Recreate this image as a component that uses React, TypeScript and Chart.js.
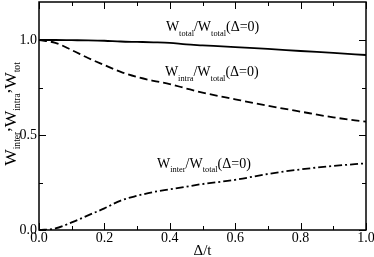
import React, { useEffect, useRef } from "react";
import { Chart, registerables } from "chart.js";

Chart.register(...registerables);

const DELTA = [0, 0.05, 0.1, 0.15, 0.2, 0.25, 0.3, 0.35, 0.4, 0.45, 0.5, 0.6, 0.7, 0.8, 0.9, 1.0];
const W_TOTAL = [1.0, 1.0, 0.999, 0.998, 0.996, 0.992, 0.99, 0.988, 0.985, 0.977, 0.972, 0.962, 0.953, 0.942, 0.932, 0.921];
const W_INTRA = [1.0, 0.985, 0.947, 0.905, 0.868, 0.832, 0.805, 0.785, 0.768, 0.745, 0.723, 0.688, 0.654, 0.623, 0.593, 0.57];
const W_INTER = [0, 0.008, 0.04, 0.077, 0.114, 0.155, 0.18, 0.2, 0.214, 0.228, 0.242, 0.264, 0.295, 0.319, 0.337, 0.351];

const X_TICKS = [0, 0.1, 0.2, 0.3, 0.4, 0.5, 0.6, 0.7, 0.8, 0.9, 1.0];
const X_LABELS = ["0.0", "", "0.2", "", "0.4", "", "0.6", "", "0.8", "", "1.0"];
const Y_TICKS = [0, 0.25, 0.5, 0.75, 1.0];
const Y_LABELS = ["0.0", "", "0.5", "", "1.0"];

type Part = { t: string; sub?: boolean; raise?: boolean };

const LABEL_TOTAL: Part[] = [
  { t: "W" }, { t: "total", sub: true }, { t: "/W" }, { t: "total", sub: true }, { t: "(\u0394=0)" },
];
const LABEL_INTRA: Part[] = [
  { t: "W" }, { t: "intra", sub: true }, { t: "/W" }, { t: "total", sub: true }, { t: "(\u0394=0)" },
];
const LABEL_INTER: Part[] = [
  { t: "W" }, { t: "inter", sub: true }, { t: "/W" }, { t: "total", sub: true }, { t: "(\u0394=0)" },
];
const Y_TITLE: Part[] = [
  { t: "W" }, { t: "inter", sub: true }, { t: ",", raise: true }, { t: "W" }, { t: "intra", sub: true },
  { t: ",", raise: true }, { t: "W" }, { t: "tot", sub: true },
];
const X_TITLE = "\u0394/t";

// annotation anchor points (data coordinates: left edge, baseline)
const ANNOTATIONS: { parts: Part[]; x: number; y: number }[] = [
  { parts: LABEL_TOTAL, x: 0.388, y: 1.045 },
  { parts: LABEL_INTRA, x: 0.385, y: 0.808 },
  { parts: LABEL_INTER, x: 0.361, y: 0.326 },
];

const FONT = '"Liberation Serif", "Times New Roman", serif';

function partFont(p: Part, size: number, subRatio: number) {
  return `${p.sub ? size * subRatio : size}px ${FONT}`;
}

function measureRich(ctx: CanvasRenderingContext2D, parts: Part[], size: number, subRatio: number) {
  let w = 0;
  for (const p of parts) {
    ctx.font = partFont(p, size, subRatio);
    w += ctx.measureText(p.t).width;
  }
  return w;
}

function drawRich(
  ctx: CanvasRenderingContext2D,
  parts: Part[],
  x: number,
  y: number,
  size: number,
  subRatio: number,
  subDrop: number
) {
  ctx.textAlign = "left";
  ctx.textBaseline = "alphabetic";
  let cx = x;
  for (const p of parts) {
    ctx.font = partFont(p, size, subRatio);
    const dy = p.sub ? size * subDrop : p.raise ? -size * 0.35 : 0;
    ctx.fillText(p.t, cx, y + dy);
    cx += ctx.measureText(p.t).width;
  }
}

const framePlugin = {
  id: "frame",
  afterDraw(chart: any) {
    const { ctx, chartArea: a, scales } = chart;
    const xs = scales.x;
    const ys = scales.y;
    ctx.save();
    ctx.strokeStyle = "#000";
    ctx.fillStyle = "#000";
    ctx.lineWidth = 1.5;
    ctx.strokeRect(a.left, a.top, a.right - a.left, a.bottom - a.top);

    ctx.lineWidth = 1;
    ctx.beginPath();
    X_TICKS.forEach((v, i) => {
      const px = Math.round(xs.getPixelForValue(v)) + 0.5;
      const len = X_LABELS[i] ? 7 : 4;
      ctx.moveTo(px, a.bottom);
      ctx.lineTo(px, a.bottom - len);
      ctx.moveTo(px, a.top);
      ctx.lineTo(px, a.top + len);
    });
    Y_TICKS.forEach((v, i) => {
      const py = Math.round(ys.getPixelForValue(v)) + 0.5;
      const len = Y_LABELS[i] ? 7 : 4;
      ctx.moveTo(a.left, py);
      ctx.lineTo(a.left + len, py);
      ctx.moveTo(a.right, py);
      ctx.lineTo(a.right - len, py);
    });
    ctx.stroke();

    ctx.font = `14px ${FONT}`;
    ctx.textAlign = "center";
    ctx.textBaseline = "top";
    X_TICKS.forEach((v, i) => {
      if (X_LABELS[i]) ctx.fillText(X_LABELS[i], xs.getPixelForValue(v), a.bottom + 1);
    });
    ctx.textAlign = "right";
    ctx.textBaseline = "middle";
    Y_TICKS.forEach((v, i) => {
      if (Y_LABELS[i]) ctx.fillText(Y_LABELS[i], a.left - 2, ys.getPixelForValue(v));
    });

    // x title
    ctx.font = `15px ${FONT}`;
    ctx.textAlign = "center";
    ctx.textBaseline = "alphabetic";
    ctx.fillText(X_TITLE, (a.left + a.right) / 2, 255);

    // y title
    const ySize = 17.5;
    const w = measureRich(ctx, Y_TITLE, ySize, 0.55);
    ctx.save();
    ctx.translate(16, 114);
    ctx.rotate(-Math.PI / 2);
    drawRich(ctx, Y_TITLE, -w / 2, 0, ySize, 0.55, 0.2);
    ctx.restore();

    // annotations
    for (const an of ANNOTATIONS) {
      drawRich(ctx, an.parts, xs.getPixelForValue(an.x), ys.getPixelForValue(an.y), 14, 0.6, 0.3);
    }
    ctx.restore();
  },
};

export default function App() {
  const ref = useRef<HTMLCanvasElement | null>(null);
  useEffect(() => {
    document.body.style.margin = "0";
    const canvas = ref.current;
    if (!canvas) return;
    const mk = (vals: number[]) => DELTA.map((d, i) => ({ x: d, y: vals[i] }));
    const common = {
      borderColor: "#000",
      borderWidth: 1.8,
      pointRadius: 0,
      fill: false,
      cubicInterpolationMode: "monotone" as const,
    };
    const chart = new Chart(canvas, {
      type: "line",
      data: {
        datasets: [
          { label: "total", data: mk(W_TOTAL), ...common },
          { label: "intra", data: mk(W_INTRA), borderDash: [8, 4], ...common },
          { label: "inter", data: mk(W_INTER), borderDash: [8, 3, 2, 3], ...common },
        ],
      },
      options: {
        responsive: false,
        animation: false,
        layout: { padding: { top: 2, right: 8, left: 0, bottom: 0 } },
        plugins: { legend: { display: false }, tooltip: { enabled: false } },
        scales: {
          x: {
            type: "linear",
            min: 0,
            max: 1,
            grid: { display: false },
            border: { display: false },
            ticks: { display: false },
            afterFit: (s: any) => {
              s.height = 27;
            },
          },
          y: {
            type: "linear",
            min: 0,
            max: 1.2,
            grid: { display: false },
            border: { display: false },
            ticks: { display: false },
            afterFit: (s: any) => {
              s.width = 39;
            },
          },
        },
      },
      plugins: [framePlugin],
    });
    return () => chart.destroy();
  }, []);
  return (
    <canvas
      ref={ref}
      width={374}
      height={257}
      style={{ position: "absolute", left: 0, top: 0, display: "block", width: 374, height: 257 }}
    />
  );
}
